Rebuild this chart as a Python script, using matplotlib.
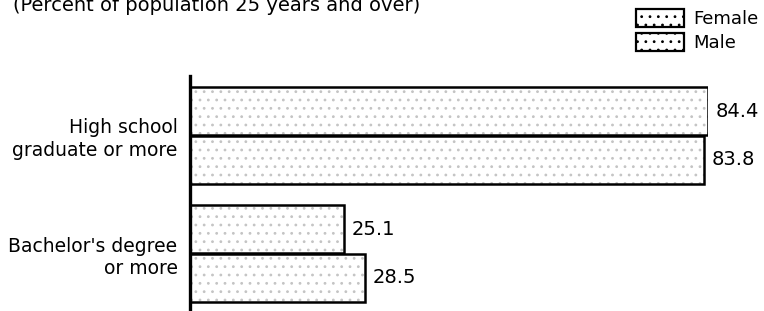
import numpy as np
import matplotlib.pyplot as plt
from matplotlib.patches import Patch

categories = ["High school\ngraduate or more", "Bachelor's degree\nor more"]
female = [84.4, 25.1]
male = [83.8, 28.5]
title = "(Percent of population 25 years and over)"

plt.rcParams['font.family'] = ['DejaVu Sans']
plt.rcParams['hatch.linewidth'] = 0.8

fig = plt.figure(figsize=(7.64, 3.11), dpi=100)
ax = fig.add_axes([190/764, 0, 518/764, 235/311])

y = np.array([1, 0])
h = 0.405
off = 0.205

for vals, dy in [(female, off), (male, -off)]:
    # light speckle texture, then the black outline on top
    ax.barh(y + dy, vals, height=h, color='white', edgecolor='#c4c4c4',
            hatch='..', linewidth=0)
    ax.barh(y + dy, vals, height=h, color='none', edgecolor='black', linewidth=1.8)
    for yy, v in zip(y + dy, vals):
        ax.text(v + 1.2, yy, f'{v:.1f}', va='center', ha='left', fontsize=14,
                clip_on=False)

ax.set_xlim(0, 84.4)
ax.set_ylim(-0.487, 1.504)
ax.set_yticks(y)
ax.set_yticklabels(categories, fontsize=13.5, linespacing=1.25)
ax.tick_params(axis='y', length=0, pad=9)
ax.set_xticks([])
for s in ['top', 'right', 'bottom']:
    ax.spines[s].set_visible(False)
ax.spines['left'].set_linewidth(2.4)

fig.text(13/764, 1 - 11/311, title, fontsize=14, ha='left', va='baseline')

handles = [Patch(facecolor='white', edgecolor='black', hatch='..', linewidth=1.6),
           Patch(facecolor='white', edgecolor='black', hatch='..', linewidth=1.6)]
fig.legend(handles, ['Female', 'Male'], loc='upper right',
           bbox_to_anchor=(762/764, 1 - 5/311), frameon=False, fontsize=13,
           handlelength=2.66, handleheight=1.15, handletextpad=0.5,
           labelspacing=0.3, borderpad=0.2, borderaxespad=0)

plt.savefig('out.png', dpi=100)
